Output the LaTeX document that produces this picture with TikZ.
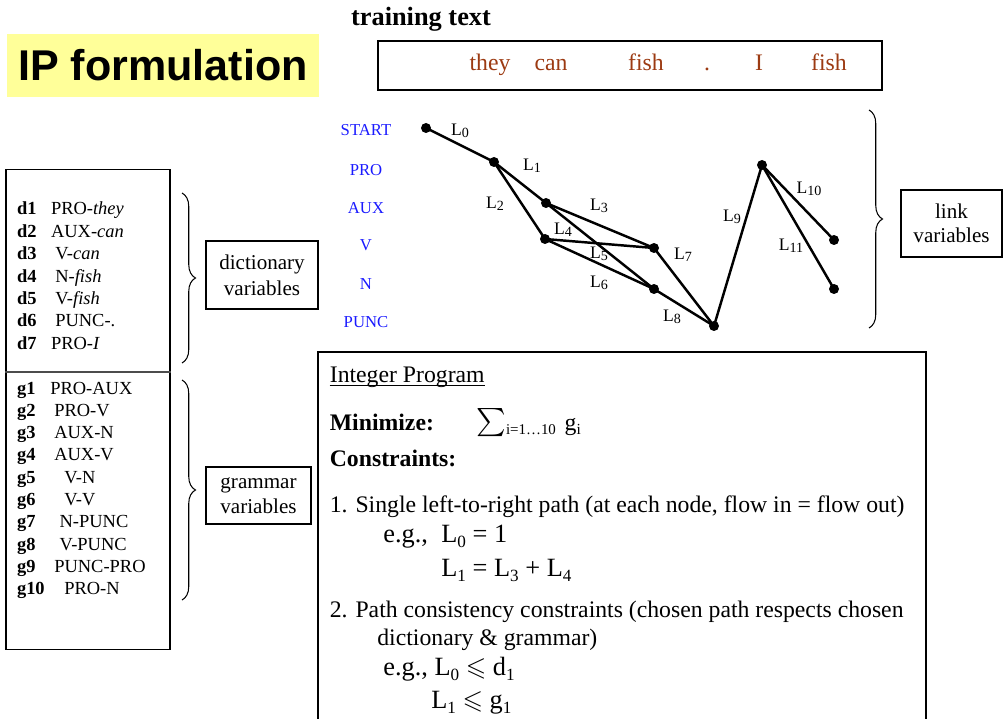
\documentclass[tikz,border=0pt]{standalone}
\usepackage{fontspec}
\usepackage{amssymb}
\setmainfont{Liberation Serif}
\newfontfamily\titlefont{Liberation Sans}
\usetikzlibrary{decorations.pathreplacing}
\definecolor{wordbrown}{HTML}{9C3A12}
\definecolor{tagblue}{HTML}{1A1AFF}
\definecolor{titleyellow}{HTML}{FFFF99}
\newcommand{\setfs}[1]{\fontsize{#1}{#1}\selectfont}
\newcommand{\lsub}[1]{\raisebox{-0.45ex}{\scalebox{0.65}{#1}}}
\newcommand{\lidx}[1]{\raisebox{-0.25ex}{\scalebox{0.8}{#1}}}
\begin{document}
\begin{tikzpicture}[x=0.02cm,y=-0.02cm,
    txt/.style={inner sep=0pt,anchor=base west},
    tag/.style={inner sep=0pt,text=tagblue,font=\setfs{9.5}},
    dot/.style={circle,fill=black,inner sep=0pt,minimum size=0.2cm},
    link/.style={line width=1.4pt},
    lbl/.style={inner sep=0pt,font=\setfs{10}},
    varbox/.style={draw,line width=0.6pt,align=center,inner sep=0pt},
    brc/.style={decorate,decoration={brace,amplitude=0.27cm},line width=0.6pt}]
\useasboundingbox (0,0) rectangle (1003,719);

% 标题
\node[fill=titleyellow,minimum width=6.24cm,minimum height=1.26cm,inner sep=0pt,
      font=\titlefont\bfseries\setfs{24.5}] (title) at (163,65.5) {IP formulation};

% 训练文本
\node[inner sep=0pt,font=\bfseries\setfs{15}] (trainlbl) at (421,19) {training text};
\node[draw,line width=0.8pt,minimum width=10.08cm,minimum height=0.98cm,inner sep=0pt] (trainbox) at (630,65.5) {};
\foreach \w/\x in {they/490,can/551,fish/646,./707,I/759,fish/829}
    \node[inner sep=0pt,anchor=base,text=wordbrown,font=\setfs{13.5}] (w\x) at (\x,71) {\w};

% 标签 (行)
\foreach \t/\y in {START/130,PRO/170,AUX/208,V/245,N/284,PUNC/322}
    \node[tag] (t\t) at (366,\y) {\t};

% 节点
\node[dot] (s0) at (426,128) {};
\node[dot] (p1) at (494,162) {};
\node[dot] (a1) at (546,203) {};
\node[dot] (v1) at (545,239) {};
\node[dot] (v2) at (654,248) {};
\node[dot] (n2) at (654,289) {};
\node[dot] (u1) at (714,326) {};
\node[dot] (p2) at (762,165) {};
\node[dot] (v3) at (834,240) {};
\node[dot] (n3) at (834,289) {};

% 连线 L0 ... L11
\foreach \a/\b in {s0/p1,p1/a1,p1/v1,a1/v2,v1/v2,a1/n2,v1/n2,v2/u1,n2/u1,u1/p2,p2/v3,p2/n3}
    \draw[link] (\a.center) -- (\b.center);
\foreach \i/\x/\y in {0/460/131,1/532/166,2/495/204,3/599/206,4/563/230,5/599/254,
                      6/599/283,7/683/255,8/672/317,9/732/217,10/809/189,11/791/246}
    \node[lbl] (l\i) at (\x,\y) {L\lidx{\i}};

% link variables
\coordinate (lktop) at (869,110);
\coordinate (lkbot) at (869,328);
\draw[brc] (lktop) -- (lkbot);
\node[varbox,minimum width=2.02cm,minimum height=1.34cm,font=\fontsize{12}{13.6}\selectfont]
    (linkbox) at (951.5,223.5) {link\\variables};

% 左侧变量表
\node[draw,line width=0.6pt,minimum width=3.28cm,minimum height=9.62cm,inner sep=0pt] (listbox) at (88,409.5) {};
\draw[line width=0.8pt,black!70] (listbox.west |- 0,372) -- (listbox.east |- 0,372);
\foreach \i/\x/\t in {1/50.7/PRO-\textit{they},2/50.7/AUX-\textit{can},3/55/V-\textit{can},
                      4/55/N-\textit{fish},5/55/V-\textit{fish},6/55/PUNC-.,7/50.7/PRO-\textit{I}} {
    \node[txt,font=\bfseries\setfs{10.5}] (dk\i) at (16.7,{215+22.35*(\i-1)}) {d\i};
    \node[txt,font=\setfs{10.5}] (dv\i) at (\x,{215+22.35*(\i-1)}) {\t};
}
\foreach \i/\x/\t in {1/50/PRO-AUX,2/54/PRO-V,3/54/AUX-N,4/54/AUX-V,5/64/V-N,
                      6/64/V-V,7/59.3/N-PUNC,8/59.3/V-PUNC,9/54/PUNC-PRO,10/64/PRO-N} {
    \node[txt,font=\bfseries\setfs{10.5}] (gk\i) at (16.7,{394+22.3*(\i-1)}) {g\i};
    \node[txt,font=\setfs{10.5}] (gv\i) at (\x,{394+22.3*(\i-1)}) {\t};
}

% 大括号
\coordinate (dtop) at (182,193);
\coordinate (dbot) at (182,363);
\coordinate (gtop) at (182,380);
\coordinate (gbot) at (182,600);
\draw[brc] (dtop) -- (dbot);
\draw[brc] (gtop) -- (gbot);
\node[varbox,minimum width=2.24cm,minimum height=1.36cm,font=\fontsize{12}{14.7}\selectfont]
    (dictbox) at (262,275) {dictionary\\variables};
\node[varbox,minimum width=2.1cm,minimum height=1.14cm,font=\fontsize{12}{14.2}\selectfont]
    (grambox) at (258.5,495.5) {grammar\\variables};

% Integer Program
\draw[line width=0.6pt] (318,719) -- (318,352) -- (926,352) -- (926,719);
\node[txt,font=\setfs{13.5}] (iphead) at (329.5,382) {Integer Program};
\draw[line width=0.6pt] ([yshift=-1.8pt]iphead.base west) -- ([yshift=-1.8pt]iphead.base east);
\node[txt,font=\bfseries\setfs{13.5}] (minlbl) at (329.5,430) {Minimize:};
\node[txt,font=\setfs{13.5}] (sumexpr) at (476,430)
    {{\setfs{16}$\sum$}\raisebox{-2.6pt}{\setfs{8.5}i=1…10}\hspace{5pt}g\lsub{i}};
\node[txt,font=\bfseries\setfs{13.5}] (conlbl) at (329.5,466) {Constraints:};
\node[txt,font=\setfs{13.5}] (c1) at (329.5,512)
    {1. Single left-to-right path (at each node, flow in = flow out)};
\node[txt,font=\setfs{15}] (eg1) at (383,542) {e.g.,};
\node[txt,font=\setfs{15}] (eq1) at (441,542) {L\lsub{0} = 1};
\node[txt,font=\setfs{15}] (eq2) at (441,576) {L\lsub{1} = L\lsub{3} + L\lsub{4}};
\node[txt,font=\setfs{13.5}] (c2) at (329.5,617)
    {2. Path consistency constraints (chosen path respects chosen};
\node[txt,font=\setfs{13.5}] (c2b) at (377,645) {dictionary \& grammar)};
\node[txt,font=\setfs{15}] (eg2) at (383,675) {e.g., L\lsub{0} $\leqslant$ d\lsub{1}};
\node[txt,font=\setfs{15}] (eq3) at (431,708) {L\lsub{1} $\leqslant$ g\lsub{1}};
\end{tikzpicture}
\end{document}
